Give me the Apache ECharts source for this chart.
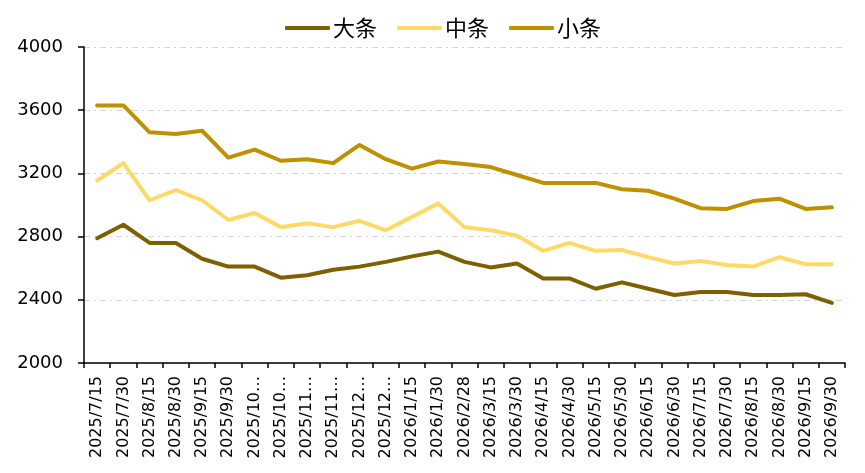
<!DOCTYPE html>
<html>
<head>
<meta charset="utf-8">
<script src="https://cdn.jsdelivr.net/npm/echarts@6/dist/echarts.min.js"></script>
<style>
html,body{margin:0;padding:0;background:#fff;}
#chart{width:865px;height:473px;}
</style>
</head>
<body>
<div id="chart"></div>
<script>
var dates = ['2025/7/15','2025/7/30','2025/8/15','2025/8/30','2025/9/15','2025/9/30',
  '2025/10/15','2025/10/30','2025/11/15','2025/11/30','2025/12/15','2025/12/30',
  '2026/1/15','2026/1/30','2026/2/28','2026/3/15','2026/3/30','2026/4/15','2026/4/30',
  '2026/5/15','2026/5/30','2026/6/15','2026/6/30','2026/7/15','2026/7/30',
  '2026/8/15','2026/8/30','2026/9/15','2026/9/30'];
var daTiao = [2790,2875,2760,2760,2660,2610,2610,2540,2555,2590,2610,2640,2675,2705,
  2640,2605,2630,2535,2535,2470,2510,2470,2430,2450,2450,2430,2430,2435,2380];
var zhongTiao = [3155,3265,3030,3095,3030,2905,2950,2860,2885,2860,2900,2840,2925,3010,
  2860,2840,2805,2710,2760,2710,2715,2670,2630,2645,2620,2610,2670,2625,2625];
var xiaoTiao = [3630,3630,3460,3450,3470,3300,3350,3280,3290,3265,3380,3290,3230,3275,
  3260,3240,3190,3140,3140,3140,3100,3090,3040,2980,2975,3025,3040,2975,2985];
var yTicks = [2000,2400,2800,3200,3600,4000];

var chart = echarts.init(document.getElementById('chart'));
var lineW = 4;
function ser(name, data, color){
  return {
    name:name,
    type:'line',
    data:data,
    symbol:'none',
    lineStyle:{width:lineW,color:color,cap:'round',join:'round'},
    itemStyle:{color:color}
  };
}
chart.setOption({
  animation:false,
  textStyle:{fontFamily:'DejaVu Sans'},
  legend:{
    top:12,
    left:280,
    itemWidth:45,
    itemHeight:4,
    itemGap:20,
    icon:'roundRect',
    textStyle:{fontSize:22,color:'#000',fontFamily:'Noto Sans CJK SC',padding:[0,0,0,-2]},
    data:['大条','中条','小条']
  },
  grid:{left:84,right:20,top:47,bottom:110},
  xAxis:{
    type:'category',
    data:dates,
    boundaryGap:true,
    axisLine:{lineStyle:{color:'#000',width:1.5}},
    axisTick:{show:true,length:5,interval:0,lineStyle:{color:'#000',width:1.5}},
    axisLabel:{
      interval:0,
      rotate:90,
      fontSize:16,
      color:'#000',
      margin:13,
      formatter:function(v){ return v.length > 9 ? v.slice(0,7) + '…' : v; }
    },
    splitLine:{show:false}
  },
  yAxis:{
    type:'value',
    min:yTicks[0],
    max:yTicks[yTicks.length-1],
    interval:400,
    axisLine:{show:true,lineStyle:{color:'#000',width:1.5}},
    axisTick:{show:true,inside:false,length:6,lineStyle:{color:'#000',width:1.5}},
    axisLabel:{fontSize:18,color:'#000',margin:21,formatter:function(v){ return String(v); }},
    splitLine:{show:true,lineStyle:{color:'#d4d4d4',width:1.2,type:[6,4,2,4]}}
  },
  series:[
    ser('大条', daTiao, '#7f6000'),
    ser('中条', zhongTiao, '#ffd966'),
    ser('小条', xiaoTiao, '#bf9000')
  ]
});
</script>
</body>
</html>
